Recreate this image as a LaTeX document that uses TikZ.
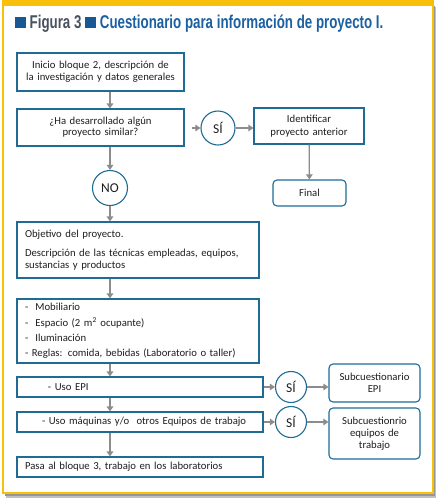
\documentclass[tikz,border=0pt]{standalone}
\usepackage{fontspec}
\setmainfont{Carlito}
\newfontfamily\titlefont[FakeStretch=0.72]{Liberation Sans}
\usetikzlibrary{arrows.meta}

\definecolor{marco}{RGB}{248,192,10}
\definecolor{sombra}{RGB}{150,150,150}
\definecolor{borde}{RGB}{30,108,148}
\definecolor{flechagris}{RGB}{140,140,140}
\definecolor{texto}{RGB}{30,30,30}
\definecolor{grisfig}{RGB}{72,82,98}
\definecolor{azultit}{RGB}{28,96,162}
\definecolor{azulcuad}{RGB}{24,88,148}

\begin{document}
\begin{tikzpicture}[x=1pt, y=-1pt,
	caja/.style={draw=borde, line width=1.1pt, fill=white, inner sep=0pt, align=center, text=texto, font=\fontsize{10.7}{12.3}\selectfont},
	redonda/.style={caja, rounded corners=4pt},
	circulo/.style={draw=borde, line width=1.1pt, fill=white, circle, inner sep=0pt, minimum size=#1, text=texto, font=\fontsize{13.5}{14}\selectfont},
	circulo/.default=32pt,
	flecha/.style={draw=flechagris, line width=1.3pt, -{Triangle[width=6.5pt,length=5pt]}},
	titulo/.style={inner sep=0pt, font=\titlefont\bfseries\fontsize{18.5}{20}\selectfont}]

	\useasboundingbox (0,0) rectangle (436,499);

	% marco de la figura
	\fill[sombra!60] (6,7) rectangle (436,498);
	\fill[sombra] (5,6) rectangle (434.5,496);
	\draw[marco, line width=2pt, fill=white] (3,3) rectangle (432.5,492.5);
	\fill[marco] (2,0) rectangle (433.5,5.5);

	% titulo
	\fill[azulcuad] (14.5,16.5) rectangle (26,28);
	\node[titulo, text=grisfig, anchor=base west] (fig) at (29.5,28) {Figura 3};
	\fill[azulcuad] ([xshift=3pt]fig.base east) rectangle ++(11.5,-11.5);
	\node[titulo, text=azultit, anchor=base west] (tit) at ([xshift=18pt]fig.base east) {Cuestionario para información de proyecto I.};

	% cajas
	\node[caja, minimum height=38pt, text width=167pt] (inicio) at (100.5,72) {Inicio bloque 2, descripción de\\ la investigación y datos generales};
	\node[caja, minimum height=37pt, text width=167pt, font=\fontsize{10.7}{11.2}\selectfont] (similar) at (100.5,127.5) {¿Ha desarrollado algún\\ proyecto similar?};
	\node[circulo=34pt] (si1) at (218,128) {SÍ};
	\node[caja, minimum height=36pt, text width=110pt] (identificar) at (309,126) {Identificar\\ proyecto anterior};
	\node[redonda, minimum height=26pt, text width=73pt] (final) at (309.5,193) {Final};
	\node[circulo=35pt] (no) at (110,188) {NO};

	\node[caja, minimum height=56pt, text width=226pt, inner xsep=8pt, align=left, font=\fontsize{10.7}{11.5}\selectfont] (objetivo) at (138,250)
		{Objetivo del proyecto.\\[8pt] Descripción de las técnicas empleadas, equipos,\\ sustancias y productos};
	\node[caja, minimum height=64pt, text width=226pt, inner xsep=8pt, align=left, font=\fontsize{10.7}{15.3}\selectfont] (mobiliario) at (138,331)
		{-\ \ Mobiliario\\ -\ \ Espacio (2 m\textsuperscript{2} ocupante)\\ -\ \ Iluminación\\ - Reglas: comida, bebidas (Laboratorio o taller)};

	\node[caja, minimum height=20pt, text width=246pt, align=left] (epi) at (140,387) {\hspace*{31pt}- Uso EPI};
	\node[circulo=31pt] (si2) at (291,387) {SÍ};
	\node[redonda, minimum height=38pt, text width=91pt] (subepi) at (374.5,383) {Subcuestionario\\ EPI};

	\node[caja, minimum height=20pt, text width=246pt, align=left] (maquinas) at (140,422) {\hspace*{25pt}- Uso máquinas y/o\ \ otros Equipos de trabajo};
	\node[circulo=31pt] (si3) at (291,422) {SÍ};
	\node[redonda, minimum height=51pt, text width=91pt] (subequipos) at (374.5,433.5) {Subcuestionrio\\ equipos de\\ trabajo};

	\node[caja, minimum height=20pt, text width=246pt, align=left] (pasa) at (140,467) {\hspace*{8pt}Pasa al bloque 3, trabajo en los laboratorios};

	% flechas
	\draw[flecha] (inicio.south -| no) -- (similar.north -| no);
	\draw[flecha] (similar.south -| no) -- (no);
	\draw[flecha] (no) -- (objetivo.north -| no);
	\draw[flecha] (objetivo.south -| no) -- (mobiliario.north -| no);
	\draw[flecha] (mobiliario.south -| no) -- (epi.north -| no);
	\draw[flecha] (epi.south -| no) -- (maquinas.north -| no);
	\draw[flecha] (maquinas.south -| no) -- (pasa.north -| no);

	\draw[flecha, shorten <=7pt] (similar.east |- si1) -- (si1);
	\draw[flecha] (si1) -- (si1 -| identificar.west);
	\draw[flecha] (identificar) -- (final);

	\draw[flecha] (epi) -- (si2);
	\draw[flecha] (si2) -- (si2 -| subepi.west);
	\draw[flecha] (maquinas) -- (si3);
	\draw[flecha] (si3) -- (si3 -| subequipos.west);
\end{tikzpicture}
\end{document}
